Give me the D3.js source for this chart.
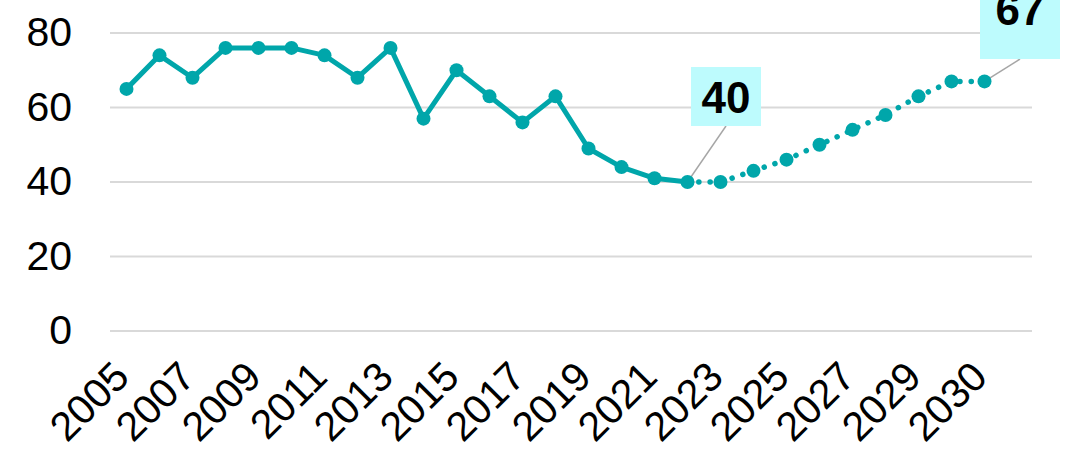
<!DOCTYPE html>
<html>
<head>
<meta charset="utf-8">
<script src="https://cdn.jsdelivr.net/npm/d3@7.9.0/dist/d3.min.js"></script>
<style>
  body { margin: 0; background: #fff; }
  svg { display: block; font-family: "Liberation Sans", Arial, sans-serif; }
</style>
</head>
<body>
<svg width="1069" height="454"></svg>
<script>
// 28 category slots, every other one labelled
const tickLabels = ['2005', '2007', '2009', '2011', '2013', '2015', '2017', '2019',
  '2021', '2023', '2025', '2027', '2029', '2030'];
const actual = [65, 74, 68, 76, 76, 76, 74, 68, 76, 57, 70, 63, 56, 63, 49, 44, 41, 40];
const projection = [40, 40, 43, 46, 50, 54, 58, 63, 67, 67]; // starts at slot 17
const yTicks = [0, 20, 40, 60, 80];
const callouts = [{ i: 17, v: 40, bx: 726, top: 67, w: 70, h: 59, base: 113 },
                  { i: 26, v: 67, bx: 1020, top: -1, w: 80, h: 60, base: 25 }];

const svg = d3.select('svg');
const color = '#00a6aa';

let x = d3.scaleBand().domain(d3.range(28)).range([110, 1034]);
let y = d3.scaleLinear().domain([0, 80]).range([331, 33]);
const cx = (i) => x(i) + x.bandwidth() / 2;

// gridlines + y labels
svg.selectAll('.grid').data(yTicks).join('line')
  .attr('x1', 110).attr('x2', 1032)
  .attr('y1', d => y(d)).attr('y2', d => y(d))
  .attr('stroke', '#d9d9d9').attr('stroke-width', 2);

svg.selectAll('.ylab').data(yTicks).join('text')
  .attr('x', 72).attr('y', d => y(d) + 13)
  .attr('text-anchor', 'end')
  .attr('font-size', 41)
  .text(d => d);

// x labels, rotated
tickLabels.forEach((t, k) => {
  svg.append('text')
    .attr('transform', `translate(${cx(k * 2) + 5},379) rotate(-45)`)
    .attr('text-anchor', 'end')
    .attr('font-size', 41)
    .text(t);
});

let line = d3.line().x(d => cx(d.i)).y(d => y(d.v));
let actData = actual.map((v, i) => ({ i, v }));
let projData = projection.map((v, k) => ({ i: k + 17, v }));

// leader lines behind the markers
callouts.forEach(c => {
  svg.append('line')
    .attr('x1', cx(c.i)).attr('y1', y(c.v))
    .attr('x2', c.bx).attr('y2', c.top + c.h)
    .attr('stroke', '#a6a6a6').attr('stroke-width', 1.5);
});

svg.append('path').attr('d', line(projData))
  .attr('fill', 'none').attr('stroke', color)
  .attr('stroke-width', 5.5).attr('stroke-linecap', 'round')
  .attr('stroke-dasharray', '0.1 11.2');

svg.append('path').attr('d', line(actData))
  .attr('fill', 'none').attr('stroke', color)
  .attr('stroke-width', 5).attr('stroke-linejoin', 'round');

svg.selectAll('.dot').data(actData.concat(projData.slice(1))).join('circle')
  .attr('cx', d => cx(d.i)).attr('cy', d => y(d.v)).attr('r', 7)
  .attr('fill', color);

// callout boxes
callouts.forEach(c => {
  svg.append('rect')
    .attr('x', c.bx - c.w / 2).attr('y', c.top)
    .attr('width', c.w).attr('height', c.h)
    .attr('fill', '#bdfbfd');
  svg.append('text')
    .attr('x', c.bx).attr('y', c.base)
    .attr('text-anchor', 'middle')
    .attr('font-size', 44).attr('font-weight', 'bold')
    .text(c.v);
});
</script>
</body>
</html>
